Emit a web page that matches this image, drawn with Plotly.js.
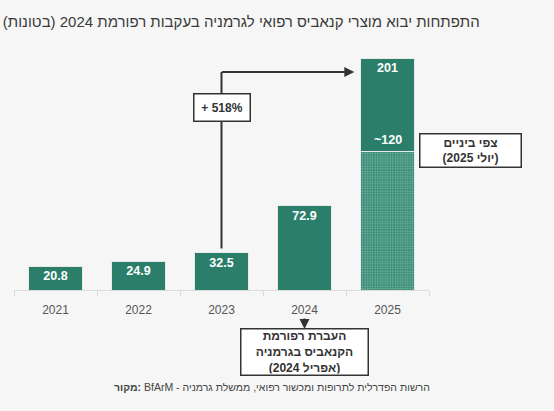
<!DOCTYPE html>
<html>
<head>
<meta charset="utf-8">
<script src="https://cdn.plot.ly/plotly-3.0.1.min.js"></script>
<style>
  html, body { margin: 0; padding: 0; background: #f6f6f6; }
  #chart { width: 554px; height: 411px; }
</style>
</head>
<body>
<div id="chart"></div>
<script>
// values in tonnes
var years = ['2021', '2022', '2023', '2024', '2025'];
var imports = [20.8, 24.9, 32.5, 72.9, null];
var midYear2025 = 120;    // interim estimate (July 2025)
var forecast2025 = 201;   // full-year forecast
var growthLabel = '+ 518%';

var pos = years.map(function (y, i) { return i; });
var last = pos[pos.length - 1];
var bold = function (v) { return v == null ? '' : '<b>' + v + '</b>'; };

var green = '#2b7f6a';
var ink = '#333333';
var font = 'Liberation Sans, DejaVu Sans, sans-serif';
var barLine = { color: '#e9e9e9', width: 1 };
var barText = { color: 'white', size: 12.5, family: font };

var traces = [
  {
    type: 'bar',
    x: pos,
    y: imports,
    text: imports.map(bold),
    textposition: 'inside',
    insidetextanchor: 'end',
    textfont: barText,
    marker: { color: green, line: barLine }
  },
  {
    type: 'bar',
    x: [last],
    y: [midYear2025],
    marker: {
      color: green,
      line: barLine,
      pattern: { shape: '.', size: 2.5, solidity: 0.5, fgcolor: '#6db39d', bgcolor: green }
    }
  },
  {
    type: 'bar',
    x: [last],
    y: [forecast2025 - midYear2025],
    text: [bold(forecast2025)],
    textposition: 'inside',
    insidetextanchor: 'end',
    textfont: barText,
    marker: { color: green, line: barLine }
  }
];

var layout = {
  width: 554,
  height: 411,
  margin: { l: 14, r: 125, t: 50, b: 121 },
  paper_bgcolor: '#f6f6f6',
  plot_bgcolor: '#f6f6f6',
  barmode: 'stack',
  bargap: 0.34,
  showlegend: false,
  font: { family: font, color: ink },
  title: {
    text: 'התפתחות יבוא מוצרי קנאביס רפואי לגרמניה בעקבות רפורמת 2024 (בטונות)',
    xref: 'container', x: 0.866, xanchor: 'right',
    yref: 'container', y: 0.946, yanchor: 'middle',
    font: { size: 15, color: '#3a3a3a', family: font }
  },
  xaxis: {
    range: [-0.5, last + 0.5],
    tickmode: 'array', tickvals: pos, ticktext: years, ticks: '',
    ticklabelstandoff: 9,
    minor: { tickmode: 'array', tickvals: pos.concat([last + 1]).map(function (p) { return p - 0.5; }),
             ticks: 'outside', ticklen: 5, tickcolor: '#dcdcdc', showgrid: false },
    showline: true, linecolor: '#dcdcdc', linewidth: 1,
    tickfont: { size: 12, color: '#555' },
    showgrid: false, zeroline: false
  },
  yaxis: {
    range: [0, 208],
    visible: false, showgrid: false, zeroline: false
  },
  shapes: [
    // vertical leg of the growth arrow, from the 2023 bar up
    { type: 'line', xref: 'x', yref: 'y', x0: 2, x1: 2, y0: 36, y1: 189,
      line: { color: ink, width: 2 } }
  ],
  annotations: [
    // horizontal leg, head pointing at the 2025 bar
    { xref: 'x', yref: 'y', axref: 'x', ayref: 'y',
      x: 3.6, y: 189, ax: 1.988, ay: 189, text: '',
      showarrow: true, arrowhead: 2, arrowsize: 1, arrowwidth: 2, arrowcolor: ink },
    { xref: 'x', yref: 'y', x: 2, y: 158.5, xanchor: 'center', yanchor: 'middle',
      text: '<b>' + growthLabel + '</b>',
      showarrow: false, bgcolor: 'white', bordercolor: ink, borderwidth: 1.5,
      width: 53, height: 24, font: { size: 12, color: ink } },
    { xref: 'x', yref: 'y', x: last, y: midYear2025 + 2, xanchor: 'center', yanchor: 'bottom',
      text: '<b>~' + midYear2025 + '</b>', showarrow: false,
      font: { size: 12.5, color: 'white' } },
    { xref: 'paper', yref: 'y', x: 1.101, y: 121, xanchor: 'center', yanchor: 'middle',
      text: '<b>צפי ביניים<br>(יולי 2025)</b>', showarrow: false,
      bgcolor: 'white', bordercolor: ink, borderwidth: 1.5,
      width: 98, height: 30, font: { size: 12, color: ink } },
    { xref: 'x', yref: 'paper', x: 3, y: -0.162, ax: 0, ay: -12, text: '',
      showarrow: true, arrowhead: 2, arrowsize: 1, arrowwidth: 2, arrowcolor: ink },
    { xref: 'x', yref: 'paper', x: 3, y: -0.258, xanchor: 'center', yanchor: 'middle',
      text: '<b>העברת רפורמת<br>הקנאביס בגרמניה<br>(אפריל 2024)</b>', showarrow: false,
      bgcolor: 'white', bordercolor: ink, borderwidth: 1.5,
      width: 124, height: 43, font: { size: 12, color: ink } },
    { xref: 'paper', yref: 'paper', x: 1.007, y: -0.404, xanchor: 'right', yanchor: 'middle',
      text: '<b>מקור:</b> BfArM - הרשות הפדרלית לתרופות ומכשור רפואי, ממשלת גרמניה',
      showarrow: false, font: { size: 10.5, color: '#444' } }
  ]
};

Plotly.newPlot('chart', traces, layout, { displayModeBar: false });
</script>
</body>
</html>
